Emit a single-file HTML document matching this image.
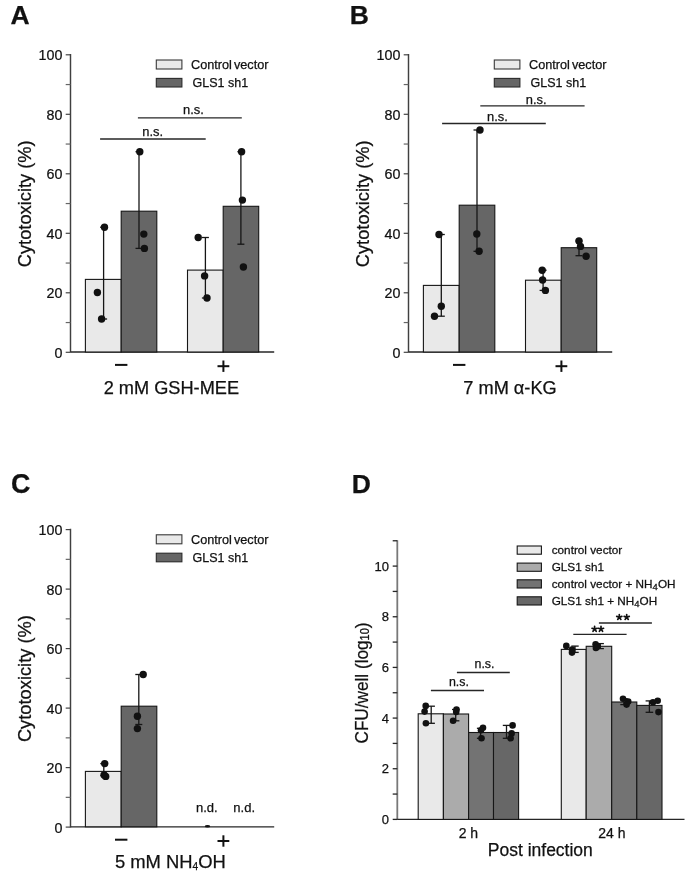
<!DOCTYPE html>
<html><head><meta charset="utf-8"><style>
html,body{margin:0;padding:0;background:#fff;}
svg{display:block;filter:grayscale(1);}
text{font-family:"Liberation Sans",sans-serif;fill:#111;stroke:#111;stroke-width:0.25px;}
</style></head><body>
<svg width="685" height="878" viewBox="0 0 685 878">
<rect width="685" height="878" fill="#fff"/>
<text x="10.4" y="23.6" font-size="26.5" font-weight="bold">A</text>
<text x="349.7" y="23.5" font-size="26.5" font-weight="bold">B</text>
<text x="11.0" y="493.0" font-size="26.8" font-weight="bold">C</text>
<text x="351.7" y="493.0" font-size="26.5" font-weight="bold">D</text>
<line x1="70.50" y1="53.90" x2="70.50" y2="352.60" stroke="#404040" stroke-width="1.45"/>
<line x1="70.50" y1="352.00" x2="274.20" y2="352.00" stroke="#262626" stroke-width="1.3"/>
<line x1="65.70" y1="352.30" x2="70.50" y2="352.30" stroke="#444" stroke-width="1.2"/>
<line x1="65.70" y1="322.55" x2="70.50" y2="322.55" stroke="#666" stroke-width="1.2"/>
<line x1="65.70" y1="292.80" x2="70.50" y2="292.80" stroke="#444" stroke-width="1.2"/>
<line x1="65.70" y1="263.05" x2="70.50" y2="263.05" stroke="#666" stroke-width="1.2"/>
<line x1="65.70" y1="233.30" x2="70.50" y2="233.30" stroke="#444" stroke-width="1.2"/>
<line x1="65.70" y1="203.55" x2="70.50" y2="203.55" stroke="#666" stroke-width="1.2"/>
<line x1="65.70" y1="173.80" x2="70.50" y2="173.80" stroke="#444" stroke-width="1.2"/>
<line x1="65.70" y1="144.05" x2="70.50" y2="144.05" stroke="#666" stroke-width="1.2"/>
<line x1="65.70" y1="114.30" x2="70.50" y2="114.30" stroke="#444" stroke-width="1.2"/>
<line x1="65.70" y1="84.55" x2="70.50" y2="84.55" stroke="#666" stroke-width="1.2"/>
<line x1="65.70" y1="54.80" x2="70.50" y2="54.80" stroke="#444" stroke-width="1.2"/>
<text transform="translate(62.40,357.80) scale(0.94,1)" font-size="15.2" text-anchor="end">0</text>
<text transform="translate(62.40,298.30) scale(0.94,1)" font-size="15.2" text-anchor="end">20</text>
<text transform="translate(62.40,238.80) scale(0.94,1)" font-size="15.2" text-anchor="end">40</text>
<text transform="translate(62.40,179.30) scale(0.94,1)" font-size="15.2" text-anchor="end">60</text>
<text transform="translate(62.40,119.80) scale(0.94,1)" font-size="15.2" text-anchor="end">80</text>
<text transform="translate(62.40,60.30) scale(0.94,1)" font-size="15.2" text-anchor="end">100</text>
<text transform="translate(30.90,203.80) rotate(-90)" font-size="18.3" text-anchor="middle">Cytotoxicity (%)</text>
<rect x="156.30" y="60.00" width="25.60" height="9.00" fill="#e9e9e9" stroke="#3a3a3a" stroke-width="1.1"/>
<rect x="156.30" y="78.40" width="25.60" height="8.60" fill="#666666" stroke="#2a2a2a" stroke-width="1.1"/>
<text x="191.00" y="69.40" font-size="12.7" text-anchor="start" font-weight="normal" >Control<tspan dx="-1.5"> </tspan>vector</text>
<text x="192.60" y="86.70" font-size="12.5" text-anchor="start" font-weight="normal" >GLS1 sh1</text>
<rect x="115.00" y="363.90" width="12.4" height="2" fill="#111"/>
<rect x="217.50" y="365.20" width="11.8" height="2" fill="#111"/>
<rect x="222.40" y="360.50" width="2" height="11.4" fill="#111"/>
<rect x="85.40" y="279.40" width="35.80" height="72.60" fill="#e9e9e9" stroke="#161616" stroke-width="1.1"/>
<rect x="121.20" y="211.20" width="35.60" height="140.80" fill="#666666" stroke="#161616" stroke-width="1.1"/>
<rect x="187.50" y="270.10" width="35.70" height="81.90" fill="#e9e9e9" stroke="#161616" stroke-width="1.1"/>
<rect x="223.20" y="206.30" width="35.50" height="145.70" fill="#666666" stroke="#161616" stroke-width="1.1"/>
<line x1="100.10" y1="139.00" x2="205.70" y2="139.00" stroke="#262626" stroke-width="1.3"/>
<text x="152.70" y="135.60" font-size="12.9" text-anchor="middle" font-weight="normal" >n.s.</text>
<line x1="137.90" y1="117.80" x2="241.80" y2="117.80" stroke="#262626" stroke-width="1.3"/>
<text x="193.50" y="114.40" font-size="12.9" text-anchor="middle" font-weight="normal" >n.s.</text>
<line x1="103.60" y1="227.20" x2="103.60" y2="319.00" stroke="#161616" stroke-width="1.3"/>
<line x1="100.10" y1="227.20" x2="107.10" y2="227.20" stroke="#161616" stroke-width="1.3"/>
<line x1="100.10" y1="319.00" x2="107.10" y2="319.00" stroke="#161616" stroke-width="1.3"/>
<circle cx="104.50" cy="227.20" r="3.7" fill="#111111"/>
<circle cx="97.40" cy="292.50" r="3.7" fill="#111111"/>
<circle cx="101.60" cy="319.00" r="3.7" fill="#111111"/>
<line x1="139.00" y1="151.70" x2="139.00" y2="248.40" stroke="#161616" stroke-width="1.3"/>
<line x1="135.50" y1="151.70" x2="142.50" y2="151.70" stroke="#161616" stroke-width="1.3"/>
<line x1="135.50" y1="248.40" x2="142.50" y2="248.40" stroke="#161616" stroke-width="1.3"/>
<circle cx="139.80" cy="151.70" r="3.7" fill="#111111"/>
<circle cx="143.80" cy="234.10" r="3.7" fill="#111111"/>
<circle cx="144.40" cy="248.40" r="3.7" fill="#111111"/>
<line x1="205.40" y1="237.50" x2="205.40" y2="298.00" stroke="#161616" stroke-width="1.3"/>
<line x1="201.90" y1="237.50" x2="208.90" y2="237.50" stroke="#161616" stroke-width="1.3"/>
<line x1="201.90" y1="298.00" x2="208.90" y2="298.00" stroke="#161616" stroke-width="1.3"/>
<circle cx="198.20" cy="237.50" r="3.7" fill="#111111"/>
<circle cx="204.60" cy="275.90" r="3.7" fill="#111111"/>
<circle cx="207.00" cy="298.00" r="3.7" fill="#111111"/>
<line x1="240.90" y1="151.70" x2="240.90" y2="244.20" stroke="#161616" stroke-width="1.3"/>
<line x1="237.40" y1="151.70" x2="244.40" y2="151.70" stroke="#161616" stroke-width="1.3"/>
<line x1="237.40" y1="244.20" x2="244.40" y2="244.20" stroke="#161616" stroke-width="1.3"/>
<circle cx="241.60" cy="151.70" r="3.7" fill="#111111"/>
<circle cx="242.40" cy="200.10" r="3.7" fill="#111111"/>
<circle cx="243.40" cy="267.00" r="3.7" fill="#111111"/>
<text x="171.40" y="393.60" font-size="18.2" text-anchor="middle" font-weight="normal" >2 mM GSH-MEE</text>
<line x1="408.50" y1="53.90" x2="408.50" y2="352.60" stroke="#404040" stroke-width="1.45"/>
<line x1="408.50" y1="352.00" x2="612.20" y2="352.00" stroke="#262626" stroke-width="1.3"/>
<line x1="403.70" y1="352.30" x2="408.50" y2="352.30" stroke="#444" stroke-width="1.2"/>
<line x1="403.70" y1="322.55" x2="408.50" y2="322.55" stroke="#666" stroke-width="1.2"/>
<line x1="403.70" y1="292.80" x2="408.50" y2="292.80" stroke="#444" stroke-width="1.2"/>
<line x1="403.70" y1="263.05" x2="408.50" y2="263.05" stroke="#666" stroke-width="1.2"/>
<line x1="403.70" y1="233.30" x2="408.50" y2="233.30" stroke="#444" stroke-width="1.2"/>
<line x1="403.70" y1="203.55" x2="408.50" y2="203.55" stroke="#666" stroke-width="1.2"/>
<line x1="403.70" y1="173.80" x2="408.50" y2="173.80" stroke="#444" stroke-width="1.2"/>
<line x1="403.70" y1="144.05" x2="408.50" y2="144.05" stroke="#666" stroke-width="1.2"/>
<line x1="403.70" y1="114.30" x2="408.50" y2="114.30" stroke="#444" stroke-width="1.2"/>
<line x1="403.70" y1="84.55" x2="408.50" y2="84.55" stroke="#666" stroke-width="1.2"/>
<line x1="403.70" y1="54.80" x2="408.50" y2="54.80" stroke="#444" stroke-width="1.2"/>
<text transform="translate(400.40,357.80) scale(0.94,1)" font-size="15.2" text-anchor="end">0</text>
<text transform="translate(400.40,298.30) scale(0.94,1)" font-size="15.2" text-anchor="end">20</text>
<text transform="translate(400.40,238.80) scale(0.94,1)" font-size="15.2" text-anchor="end">40</text>
<text transform="translate(400.40,179.30) scale(0.94,1)" font-size="15.2" text-anchor="end">60</text>
<text transform="translate(400.40,119.80) scale(0.94,1)" font-size="15.2" text-anchor="end">80</text>
<text transform="translate(400.40,60.30) scale(0.94,1)" font-size="15.2" text-anchor="end">100</text>
<text transform="translate(368.90,203.80) rotate(-90)" font-size="18.3" text-anchor="middle">Cytotoxicity (%)</text>
<rect x="494.30" y="60.00" width="25.60" height="9.00" fill="#e9e9e9" stroke="#3a3a3a" stroke-width="1.1"/>
<rect x="494.30" y="78.40" width="25.60" height="8.60" fill="#666666" stroke="#2a2a2a" stroke-width="1.1"/>
<text x="529.00" y="69.40" font-size="12.7" text-anchor="start" font-weight="normal" >Control<tspan dx="-1.5"> </tspan>vector</text>
<text x="530.60" y="86.70" font-size="12.5" text-anchor="start" font-weight="normal" >GLS1 sh1</text>
<rect x="453.00" y="363.90" width="12.4" height="2" fill="#111"/>
<rect x="555.50" y="365.20" width="11.8" height="2" fill="#111"/>
<rect x="560.40" y="360.50" width="2" height="11.4" fill="#111"/>
<rect x="423.40" y="285.40" width="35.80" height="66.60" fill="#e9e9e9" stroke="#161616" stroke-width="1.1"/>
<rect x="459.20" y="205.20" width="35.60" height="146.80" fill="#666666" stroke="#161616" stroke-width="1.1"/>
<rect x="525.50" y="280.20" width="35.70" height="71.80" fill="#e9e9e9" stroke="#161616" stroke-width="1.1"/>
<rect x="561.20" y="247.70" width="35.50" height="104.30" fill="#666666" stroke="#161616" stroke-width="1.1"/>
<line x1="442.10" y1="123.50" x2="545.80" y2="123.50" stroke="#262626" stroke-width="1.3"/>
<text x="497.50" y="120.90" font-size="12.9" text-anchor="middle" font-weight="normal" >n.s.</text>
<line x1="480.30" y1="105.80" x2="584.60" y2="105.80" stroke="#262626" stroke-width="1.3"/>
<text x="536.20" y="103.50" font-size="12.9" text-anchor="middle" font-weight="normal" >n.s.</text>
<line x1="441.30" y1="234.50" x2="441.30" y2="316.20" stroke="#161616" stroke-width="1.3"/>
<line x1="437.80" y1="234.50" x2="444.80" y2="234.50" stroke="#161616" stroke-width="1.3"/>
<line x1="437.80" y1="316.20" x2="444.80" y2="316.20" stroke="#161616" stroke-width="1.3"/>
<circle cx="439.00" cy="234.50" r="3.7" fill="#111111"/>
<circle cx="441.30" cy="306.30" r="3.7" fill="#111111"/>
<circle cx="434.50" cy="316.20" r="3.7" fill="#111111"/>
<line x1="477.00" y1="130.00" x2="477.00" y2="251.30" stroke="#161616" stroke-width="1.3"/>
<line x1="473.50" y1="130.00" x2="480.50" y2="130.00" stroke="#161616" stroke-width="1.3"/>
<line x1="473.50" y1="251.30" x2="480.50" y2="251.30" stroke="#161616" stroke-width="1.3"/>
<circle cx="480.00" cy="130.00" r="3.7" fill="#111111"/>
<circle cx="476.80" cy="234.00" r="3.7" fill="#111111"/>
<circle cx="479.10" cy="251.30" r="3.7" fill="#111111"/>
<line x1="543.10" y1="270.20" x2="543.10" y2="290.40" stroke="#161616" stroke-width="1.3"/>
<line x1="539.60" y1="270.20" x2="546.60" y2="270.20" stroke="#161616" stroke-width="1.3"/>
<line x1="539.60" y1="290.40" x2="546.60" y2="290.40" stroke="#161616" stroke-width="1.3"/>
<circle cx="542.20" cy="270.20" r="3.7" fill="#111111"/>
<circle cx="542.60" cy="280.00" r="3.7" fill="#111111"/>
<circle cx="545.40" cy="290.40" r="3.7" fill="#111111"/>
<line x1="579.00" y1="241.00" x2="579.00" y2="255.70" stroke="#161616" stroke-width="1.3"/>
<line x1="575.50" y1="241.00" x2="582.50" y2="241.00" stroke="#161616" stroke-width="1.3"/>
<line x1="575.50" y1="255.70" x2="582.50" y2="255.70" stroke="#161616" stroke-width="1.3"/>
<circle cx="579.00" cy="241.00" r="3.7" fill="#111111"/>
<circle cx="580.50" cy="246.40" r="3.7" fill="#111111"/>
<circle cx="586.10" cy="256.20" r="3.7" fill="#111111"/>
<text x="510.00" y="393.60" font-size="18.2" text-anchor="middle" font-weight="normal" >7 mM α-KG</text>
<line x1="70.50" y1="528.70" x2="70.50" y2="827.40" stroke="#404040" stroke-width="1.45"/>
<line x1="70.50" y1="826.80" x2="274.20" y2="826.80" stroke="#262626" stroke-width="1.3"/>
<line x1="65.70" y1="827.10" x2="70.50" y2="827.10" stroke="#444" stroke-width="1.2"/>
<line x1="65.70" y1="797.35" x2="70.50" y2="797.35" stroke="#666" stroke-width="1.2"/>
<line x1="65.70" y1="767.60" x2="70.50" y2="767.60" stroke="#444" stroke-width="1.2"/>
<line x1="65.70" y1="737.85" x2="70.50" y2="737.85" stroke="#666" stroke-width="1.2"/>
<line x1="65.70" y1="708.10" x2="70.50" y2="708.10" stroke="#444" stroke-width="1.2"/>
<line x1="65.70" y1="678.35" x2="70.50" y2="678.35" stroke="#666" stroke-width="1.2"/>
<line x1="65.70" y1="648.60" x2="70.50" y2="648.60" stroke="#444" stroke-width="1.2"/>
<line x1="65.70" y1="618.85" x2="70.50" y2="618.85" stroke="#666" stroke-width="1.2"/>
<line x1="65.70" y1="589.10" x2="70.50" y2="589.10" stroke="#444" stroke-width="1.2"/>
<line x1="65.70" y1="559.35" x2="70.50" y2="559.35" stroke="#666" stroke-width="1.2"/>
<line x1="65.70" y1="529.60" x2="70.50" y2="529.60" stroke="#444" stroke-width="1.2"/>
<text transform="translate(62.40,832.60) scale(0.94,1)" font-size="15.2" text-anchor="end">0</text>
<text transform="translate(62.40,773.10) scale(0.94,1)" font-size="15.2" text-anchor="end">20</text>
<text transform="translate(62.40,713.60) scale(0.94,1)" font-size="15.2" text-anchor="end">40</text>
<text transform="translate(62.40,654.10) scale(0.94,1)" font-size="15.2" text-anchor="end">60</text>
<text transform="translate(62.40,594.60) scale(0.94,1)" font-size="15.2" text-anchor="end">80</text>
<text transform="translate(62.40,535.10) scale(0.94,1)" font-size="15.2" text-anchor="end">100</text>
<text transform="translate(30.90,678.60) rotate(-90)" font-size="18.3" text-anchor="middle">Cytotoxicity (%)</text>
<rect x="156.30" y="534.80" width="25.60" height="9.00" fill="#e9e9e9" stroke="#3a3a3a" stroke-width="1.1"/>
<rect x="156.30" y="553.20" width="25.60" height="8.60" fill="#666666" stroke="#2a2a2a" stroke-width="1.1"/>
<text x="191.00" y="544.20" font-size="12.7" text-anchor="start" font-weight="normal" >Control<tspan dx="-1.5"> </tspan>vector</text>
<text x="192.60" y="561.50" font-size="12.5" text-anchor="start" font-weight="normal" >GLS1 sh1</text>
<rect x="115.00" y="838.70" width="12.4" height="2" fill="#111"/>
<rect x="217.50" y="840.00" width="11.8" height="2" fill="#111"/>
<rect x="222.40" y="835.30" width="2" height="11.4" fill="#111"/>
<rect x="85.40" y="771.40" width="35.80" height="55.40" fill="#e9e9e9" stroke="#161616" stroke-width="1.1"/>
<rect x="121.20" y="706.20" width="35.60" height="120.60" fill="#666666" stroke="#161616" stroke-width="1.1"/>
<line x1="103.80" y1="763.60" x2="103.80" y2="775.50" stroke="#161616" stroke-width="1.3"/>
<line x1="100.30" y1="763.60" x2="107.30" y2="763.60" stroke="#161616" stroke-width="1.3"/>
<line x1="100.30" y1="775.50" x2="107.30" y2="775.50" stroke="#161616" stroke-width="1.3"/>
<circle cx="104.70" cy="763.60" r="3.7" fill="#111111"/>
<circle cx="104.10" cy="774.90" r="3.7" fill="#111111"/>
<circle cx="105.70" cy="776.40" r="3.7" fill="#111111"/>
<line x1="138.80" y1="674.50" x2="138.80" y2="724.50" stroke="#161616" stroke-width="1.3"/>
<line x1="135.30" y1="674.50" x2="142.30" y2="674.50" stroke="#161616" stroke-width="1.3"/>
<line x1="135.30" y1="724.50" x2="142.30" y2="724.50" stroke="#161616" stroke-width="1.3"/>
<circle cx="143.20" cy="674.50" r="3.7" fill="#111111"/>
<circle cx="137.40" cy="716.20" r="3.7" fill="#111111"/>
<circle cx="137.40" cy="728.60" r="3.7" fill="#111111"/>
<text x="206.80" y="812.10" font-size="13" text-anchor="middle" font-weight="normal" >n.d.</text>
<text x="244.20" y="812.10" font-size="13" text-anchor="middle" font-weight="normal" >n.d.</text>
<ellipse cx="207.5" cy="826.2" rx="2.7" ry="1.3" fill="#111"/>
<text x="170.40" y="868.20" font-size="18.4" text-anchor="middle" font-weight="normal" >5 mM NH<tspan font-size="10.2" dy="1.6">4</tspan><tspan dy="-1.6">OH</tspan></text>
<line x1="397.30" y1="540.17" x2="397.30" y2="820.00" stroke="#787878" stroke-width="1.8"/>
<line x1="397.30" y1="819.40" x2="684.50" y2="819.40" stroke="#262626" stroke-width="1.3"/>
<line x1="392.70" y1="819.40" x2="397.30" y2="819.40" stroke="#262626" stroke-width="1.3"/>
<line x1="392.70" y1="794.07" x2="397.30" y2="794.07" stroke="#262626" stroke-width="1.3"/>
<line x1="392.70" y1="768.74" x2="397.30" y2="768.74" stroke="#262626" stroke-width="1.3"/>
<line x1="392.70" y1="743.41" x2="397.30" y2="743.41" stroke="#262626" stroke-width="1.3"/>
<line x1="392.70" y1="718.08" x2="397.30" y2="718.08" stroke="#262626" stroke-width="1.3"/>
<line x1="392.70" y1="692.75" x2="397.30" y2="692.75" stroke="#262626" stroke-width="1.3"/>
<line x1="392.70" y1="667.42" x2="397.30" y2="667.42" stroke="#262626" stroke-width="1.3"/>
<line x1="392.70" y1="642.09" x2="397.30" y2="642.09" stroke="#262626" stroke-width="1.3"/>
<line x1="392.70" y1="616.76" x2="397.30" y2="616.76" stroke="#262626" stroke-width="1.3"/>
<line x1="392.70" y1="591.43" x2="397.30" y2="591.43" stroke="#262626" stroke-width="1.3"/>
<line x1="392.70" y1="566.10" x2="397.30" y2="566.10" stroke="#262626" stroke-width="1.3"/>
<line x1="392.70" y1="540.77" x2="397.30" y2="540.77" stroke="#262626" stroke-width="1.3"/>
<text x="388.90" y="824.00" font-size="13" text-anchor="end" font-weight="normal" >0</text>
<text x="388.90" y="773.34" font-size="13" text-anchor="end" font-weight="normal" >2</text>
<text x="388.90" y="722.68" font-size="13" text-anchor="end" font-weight="normal" >4</text>
<text x="388.90" y="672.02" font-size="13" text-anchor="end" font-weight="normal" >6</text>
<text x="388.90" y="621.36" font-size="13" text-anchor="end" font-weight="normal" >8</text>
<text x="388.90" y="570.70" font-size="13" text-anchor="end" font-weight="normal" >10</text>
<text transform="translate(367.6,683.0) rotate(-90) scale(0.915,1)" font-size="18.8" text-anchor="middle">CFU/well (log<tspan font-size="12" dy="1.7">10</tspan><tspan dy="-1.7">)</tspan></text>
<rect x="418.20" y="713.80" width="25.20" height="105.60" fill="#e9e9e9" stroke="#161616" stroke-width="1.1"/>
<rect x="443.40" y="714.00" width="25.20" height="105.40" fill="#ababab" stroke="#161616" stroke-width="1.1"/>
<rect x="468.60" y="732.50" width="24.90" height="86.90" fill="#737373" stroke="#161616" stroke-width="1.1"/>
<rect x="493.50" y="732.50" width="25.10" height="86.90" fill="#676767" stroke="#161616" stroke-width="1.1"/>
<rect x="561.30" y="649.40" width="24.90" height="170.00" fill="#e9e9e9" stroke="#161616" stroke-width="1.1"/>
<rect x="586.20" y="646.30" width="25.50" height="173.10" fill="#ababab" stroke="#161616" stroke-width="1.1"/>
<rect x="611.70" y="702.00" width="25.10" height="117.40" fill="#737373" stroke="#161616" stroke-width="1.1"/>
<rect x="636.80" y="705.40" width="25.20" height="114.00" fill="#676767" stroke="#161616" stroke-width="1.1"/>
<line x1="431.20" y1="706.20" x2="431.20" y2="723.30" stroke="#161616" stroke-width="1.3"/>
<line x1="427.50" y1="706.20" x2="434.90" y2="706.20" stroke="#161616" stroke-width="1.3"/>
<line x1="427.50" y1="723.30" x2="434.90" y2="723.30" stroke="#161616" stroke-width="1.3"/>
<circle cx="425.70" cy="705.90" r="3.3" fill="#111111"/>
<circle cx="424.60" cy="711.60" r="3.3" fill="#111111"/>
<circle cx="425.90" cy="723.30" r="3.3" fill="#111111"/>
<line x1="455.70" y1="709.50" x2="455.70" y2="720.80" stroke="#161616" stroke-width="1.3"/>
<line x1="452.00" y1="709.50" x2="459.40" y2="709.50" stroke="#161616" stroke-width="1.3"/>
<line x1="452.00" y1="720.80" x2="459.40" y2="720.80" stroke="#161616" stroke-width="1.3"/>
<circle cx="456.50" cy="709.50" r="3.3" fill="#111111"/>
<circle cx="456.20" cy="712.00" r="3.3" fill="#111111"/>
<circle cx="453.10" cy="720.80" r="3.3" fill="#111111"/>
<line x1="480.60" y1="728.30" x2="480.60" y2="738.30" stroke="#161616" stroke-width="1.3"/>
<line x1="476.90" y1="728.30" x2="484.30" y2="728.30" stroke="#161616" stroke-width="1.3"/>
<line x1="476.90" y1="738.30" x2="484.30" y2="738.30" stroke="#161616" stroke-width="1.3"/>
<circle cx="483.00" cy="727.80" r="3.3" fill="#111111"/>
<circle cx="481.00" cy="730.30" r="3.3" fill="#111111"/>
<circle cx="481.50" cy="738.30" r="3.3" fill="#111111"/>
<line x1="506.50" y1="725.40" x2="506.50" y2="738.30" stroke="#161616" stroke-width="1.3"/>
<line x1="502.80" y1="725.40" x2="510.20" y2="725.40" stroke="#161616" stroke-width="1.3"/>
<line x1="502.80" y1="738.30" x2="510.20" y2="738.30" stroke="#161616" stroke-width="1.3"/>
<circle cx="512.60" cy="725.40" r="3.3" fill="#111111"/>
<circle cx="511.60" cy="733.40" r="3.3" fill="#111111"/>
<circle cx="510.60" cy="738.30" r="3.3" fill="#111111"/>
<line x1="575.00" y1="646.10" x2="575.00" y2="652.40" stroke="#161616" stroke-width="1.3"/>
<line x1="571.30" y1="646.10" x2="578.70" y2="646.10" stroke="#161616" stroke-width="1.3"/>
<line x1="571.30" y1="652.40" x2="578.70" y2="652.40" stroke="#161616" stroke-width="1.3"/>
<circle cx="566.30" cy="645.90" r="3.3" fill="#111111"/>
<circle cx="572.00" cy="649.60" r="3.3" fill="#111111"/>
<circle cx="572.00" cy="652.60" r="3.3" fill="#111111"/>
<line x1="600.20" y1="643.60" x2="600.20" y2="648.60" stroke="#161616" stroke-width="1.3"/>
<line x1="596.50" y1="643.60" x2="603.90" y2="643.60" stroke="#161616" stroke-width="1.3"/>
<line x1="596.50" y1="648.60" x2="603.90" y2="648.60" stroke="#161616" stroke-width="1.3"/>
<circle cx="595.60" cy="644.20" r="3.3" fill="#111111"/>
<circle cx="597.60" cy="646.40" r="3.3" fill="#111111"/>
<circle cx="595.90" cy="648.00" r="3.3" fill="#111111"/>
<line x1="624.00" y1="698.70" x2="624.00" y2="704.60" stroke="#161616" stroke-width="1.3"/>
<line x1="620.30" y1="698.70" x2="627.70" y2="698.70" stroke="#161616" stroke-width="1.3"/>
<line x1="620.30" y1="704.60" x2="627.70" y2="704.60" stroke="#161616" stroke-width="1.3"/>
<circle cx="623.00" cy="698.70" r="3.3" fill="#111111"/>
<circle cx="628.20" cy="701.50" r="3.3" fill="#111111"/>
<circle cx="626.60" cy="704.60" r="3.3" fill="#111111"/>
<line x1="649.40" y1="700.90" x2="649.40" y2="712.30" stroke="#161616" stroke-width="1.3"/>
<line x1="645.60" y1="700.90" x2="653.20" y2="700.90" stroke="#161616" stroke-width="1.3"/>
<line x1="645.60" y1="712.30" x2="653.20" y2="712.30" stroke="#161616" stroke-width="1.3"/>
<circle cx="657.70" cy="700.80" r="3.3" fill="#111111"/>
<circle cx="653.00" cy="702.20" r="3.3" fill="#111111"/>
<circle cx="658.50" cy="712.10" r="3.3" fill="#111111"/>
<line x1="430.90" y1="690.50" x2="484.00" y2="690.50" stroke="#262626" stroke-width="1.3"/>
<text x="458.90" y="685.90" font-size="12.4" text-anchor="middle" font-weight="normal" >n.s.</text>
<line x1="456.90" y1="672.50" x2="509.80" y2="672.50" stroke="#262626" stroke-width="1.3"/>
<text x="484.50" y="668.10" font-size="12.4" text-anchor="middle" font-weight="normal" >n.s.</text>
<line x1="573.30" y1="634.40" x2="626.60" y2="634.40" stroke="#262626" stroke-width="1.3"/>
<path d="M594.60,629.10L594.60,626.40M594.60,629.10L597.17,628.27M594.60,629.10L596.19,631.28M594.60,629.10L593.01,631.28M594.60,629.10L592.03,628.27" stroke="#111" stroke-width="1.7" stroke-linecap="round"/>
<path d="M601.00,629.10L601.00,626.40M601.00,629.10L603.57,628.27M601.00,629.10L602.59,631.28M601.00,629.10L599.41,631.28M601.00,629.10L598.43,628.27" stroke="#111" stroke-width="1.7" stroke-linecap="round"/>
<line x1="598.90" y1="623.00" x2="651.90" y2="623.00" stroke="#262626" stroke-width="1.3"/>
<path d="M619.30,617.20L619.30,614.50M619.30,617.20L621.87,616.37M619.30,617.20L620.89,619.38M619.30,617.20L617.71,619.38M619.30,617.20L616.73,616.37" stroke="#111" stroke-width="1.7" stroke-linecap="round"/>
<path d="M626.70,617.20L626.70,614.50M626.70,617.20L629.27,616.37M626.70,617.20L628.29,619.38M626.70,617.20L625.11,619.38M626.70,617.20L624.13,616.37" stroke="#111" stroke-width="1.7" stroke-linecap="round"/>
<rect x="517.20" y="546.00" width="24.20" height="8.20" fill="#e9e9e9" stroke="#161616" stroke-width="1.1"/>
<text transform="translate(551.7,553.8) scale(1.06,1)" font-size="11.1">control vector</text>
<rect x="517.20" y="563.10" width="24.20" height="8.20" fill="#ababab" stroke="#161616" stroke-width="1.1"/>
<text transform="translate(551.7,570.9) scale(1.06,1)" font-size="11.1">GLS1 sh1</text>
<rect x="517.20" y="579.80" width="24.20" height="8.20" fill="#737373" stroke="#161616" stroke-width="1.1"/>
<text transform="translate(551.7,587.7) scale(1.06,1)" font-size="11.1">control vector + NH<tspan font-size="9" dy="2">4</tspan><tspan dy="-2">OH</tspan></text>
<rect x="517.20" y="596.80" width="24.20" height="8.20" fill="#676767" stroke="#161616" stroke-width="1.1"/>
<text transform="translate(551.7,604.7) scale(1.06,1)" font-size="11.1">GLS1 sh1 + NH<tspan font-size="9" dy="2">4</tspan><tspan dy="-2">OH</tspan></text>
<text x="468.40" y="837.90" font-size="14" text-anchor="middle" font-weight="normal" >2 h</text>
<text x="611.80" y="837.90" font-size="14" text-anchor="middle" font-weight="normal" >24 h</text>
<text x="540.30" y="855.80" font-size="17.5" text-anchor="middle" font-weight="normal" >Post infection</text>
</svg>
</body></html>
